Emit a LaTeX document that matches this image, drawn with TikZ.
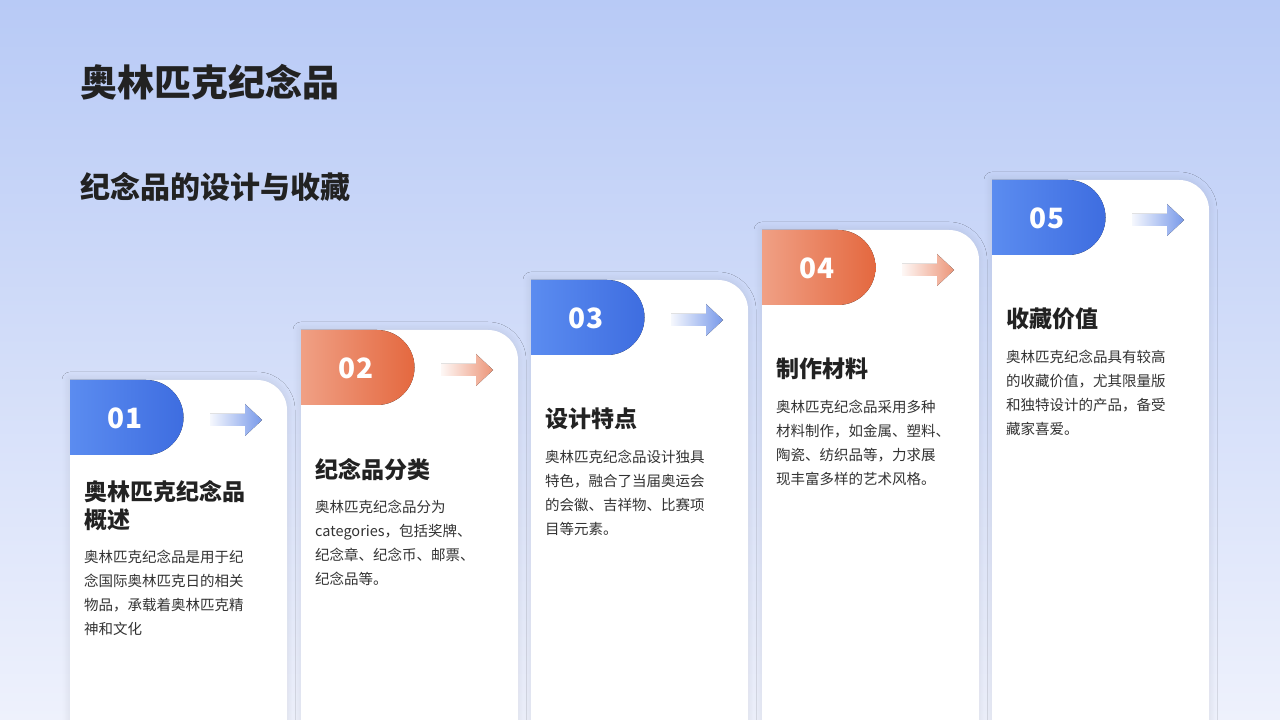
\documentclass[tikz,border=0pt]{standalone}
\usepackage{fontspec}
\setmainfont{Noto Sans CJK SC}
\usetikzlibrary{shadows.blur}
\definecolor{bgtop}{HTML}{B8CAF6}
\definecolor{bgbot}{HTML}{EEF1FC}
\definecolor{bluea}{HTML}{5B8CF0}
\definecolor{blueb}{HTML}{3E6DE0}
\definecolor{orga}{HTML}{F0A085}
\definecolor{orgb}{HTML}{E4683F}
\definecolor{txt}{HTML}{222222}
\definecolor{body}{HTML}{333333}
\tikzset{
  cardbox/.style={fill=white,blur shadow={shadow blur steps=10,shadow xshift=0pt,shadow yshift=0pt,shadow blur radius=8pt,shadow opacity=10}},
  numtxt/.style={text=white,font=\fontsize{28}{30}\selectfont\bfseries},
  ttl/.style={anchor=north west,align=left,text=txt,font=\fontsize{23}{28}\selectfont\bfseries,inner sep=0pt},
  bodytxt/.style={anchor=north west,align=left,text=body,font=\fontsize{14.5}{24}\selectfont,inner sep=0pt}
}
\newcommand{\mycard}[6]{% x, top, colA, colB, num, name
  \begin{scope}[shift={(#1,#2)}]
  \path[cardbox] (0,0) -- (0,-#2-20) -- (217,-#2-20) -- (217,-30) arc (0:90:30) -- cycle;
  \fill[left color=#3,right color=#4] (0,0) -- (76,0) arc (90:-90:37.5) -- (0,-75) -- cycle;
  \node[numtxt] (#6n) at (55,-38) {0#5};
  \fill[left color=#4!5,right color=#4!70] (140,-34) -- (175,-34) -- (175,-24) -- (192,-40) -- (175,-56) -- (175,-46) -- (140,-46) -- cycle;
  \end{scope}}
\begin{document}
\begin{tikzpicture}[x=1pt,y=1pt]
\shade[top color=bgtop,bottom color=bgbot] (0,0) rectangle (1280,720);
\useasboundingbox (0,0) rectangle (1280,720);
\node[anchor=west,text=txt,font=\fontsize{37}{40}\selectfont\bfseries,inner sep=0pt] (h1) at (80,638) {奥林匹克纪念品};
\node[anchor=west,text=txt,font=\fontsize{30}{32}\selectfont\bfseries,inner sep=0pt] (h2) at (80,533) {纪念品的设计与收藏};
\mycard{70}{340}{bluea}{blueb}{1}{c1}
\mycard{301}{390}{orga}{orgb}{2}{c2}
\mycard{531}{440}{bluea}{blueb}{3}{c3}
\mycard{762}{490}{orga}{orgb}{4}{c4}
\mycard{992}{540}{bluea}{blueb}{5}{c5}
\node[ttl] (t1) at (84,240) {奥林匹克纪念品\\概述};
\node[bodytxt] (b1) at (84,170) {奥林匹克纪念品是用于纪\\念国际奥林匹克日的相关\\物品，承载着奥林匹克精\\神和文化};
\node[ttl] (t2) at (315,262) {纪念品分类};
\node[bodytxt] (b2) at (315,220) {奥林匹克纪念品分为\\categories，包括奖牌、\\纪念章、纪念币、邮票、\\纪念品等。};
\node[ttl] (t3) at (545,312) {设计特点};
\node[bodytxt] (b3) at (545,270) {奥林匹克纪念品设计独具\\特色，融合了当届奥运会\\的会徽、吉祥物、比赛项\\目等元素。};
\node[ttl] (t4) at (776,362) {制作材料};
\node[bodytxt] (b4) at (776,320) {奥林匹克纪念品采用多种\\材料制作，如金属、塑料、\\陶瓷、纺织品等，力求展\\现丰富多样的艺术风格。};
\node[ttl] (t5) at (1006,412) {收藏价值};
\node[bodytxt] (b5) at (1006,370) {奥林匹克纪念品具有较高\\的收藏价值，尤其限量版\\和独特设计的产品，备受\\藏家喜爱。};
\end{tikzpicture}
\end{document}
